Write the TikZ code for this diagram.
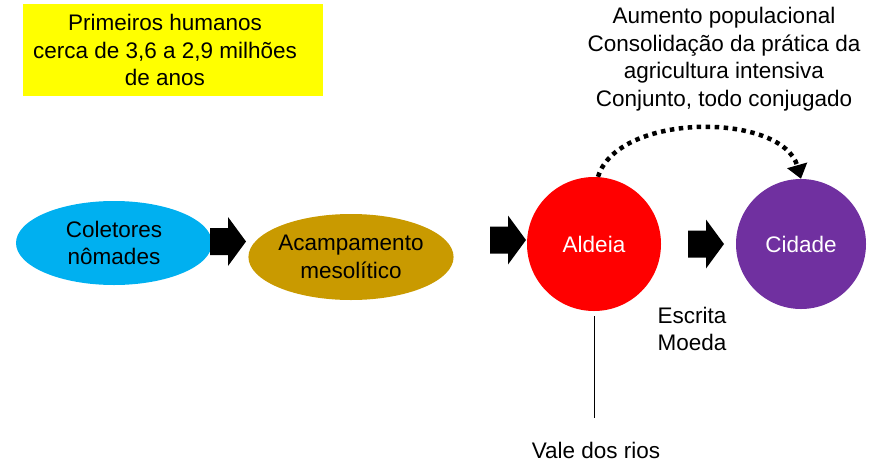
\documentclass[tikz,border=0pt]{standalone}
\usepackage{fontspec}
\setmainfont{Liberation Sans}
\usetikzlibrary{shapes.geometric,arrows.meta}
\definecolor{cyanb}{HTML}{00B0F0}
\definecolor{goldb}{HTML}{C99A00}
\definecolor{purpb}{HTML}{7030A0}
\definecolor{yellowb}{HTML}{FFFF00}
\tikzset{
  lbl/.style={font=\fontsize{22.5}{27.5}\selectfont, align=center, inner sep=0pt},
  ell/.style={ellipse, draw=none, inner sep=0pt, lbl},
  circ/.style={circle, draw=none, inner sep=0pt, lbl},
  blockarrow/.style={fill=black},
}
\begin{document}
\begin{tikzpicture}[x=1pt,y=-1pt]
\useasboundingbox (0,0) rectangle (878,464);
\node[fill=yellowb, minimum width=300pt, minimum height=92pt, inner sep=0pt] (box) at (173,50) {};
\node[lbl] (boxt) at (165,50) {Primeiros humanos\\cerca de 3,6 a 2,9 milhões\\de anos};

\node[ell, fill=cyanb, minimum width=196pt, minimum height=84pt] (col) at (114,243) {Coletores\\nômades};
\node[ell, fill=goldb, minimum width=202pt, minimum height=86pt] (aca) at (351,257) {Acampamento\\mesolítico};
\node[circ, fill=red, minimum size=134pt, text=white] (ald) at (594,244) {Aldeia};
\node[circ, fill=purpb, minimum size=130pt, text=white] (cid) at (801,244) {Cidade};

% block arrows
\foreach \x/\y in {210/241.5, 490/240, 688/244}{
  \fill[blockarrow] (\x,\y-13.5) -- (\x+18,\y-13.5) -- (\x+18,\y-24.5) -- (\x+36,\y) -- (\x+18,\y+24.5) -- (\x+18,\y+13.5) -- (\x,\y+13.5) -- cycle;
}

\draw[line width=4.5pt, dash pattern=on 4.5pt off 4.5pt, -{Triangle[length=14pt,width=20pt]}]
  (ald.north) ++(4,0) coordinate (s0) (s0) .. controls (618,112) and (782,112) .. (cid.north);

\node[lbl] (top) at (724,59) {Aumento populacional\\Consolidação da prática da\\agricultura intensiva\\Conjunto, todo conjugado};
\node[lbl] (esc) at (692,329) {Escrita\\Moeda};
\coordinate (vtop) at (594,316);
\node[lbl] (vale) at (596,450) {Vale dos rios};
\draw[line width=1pt] (vtop) -- (594,418);
\end{tikzpicture}
\end{document}
